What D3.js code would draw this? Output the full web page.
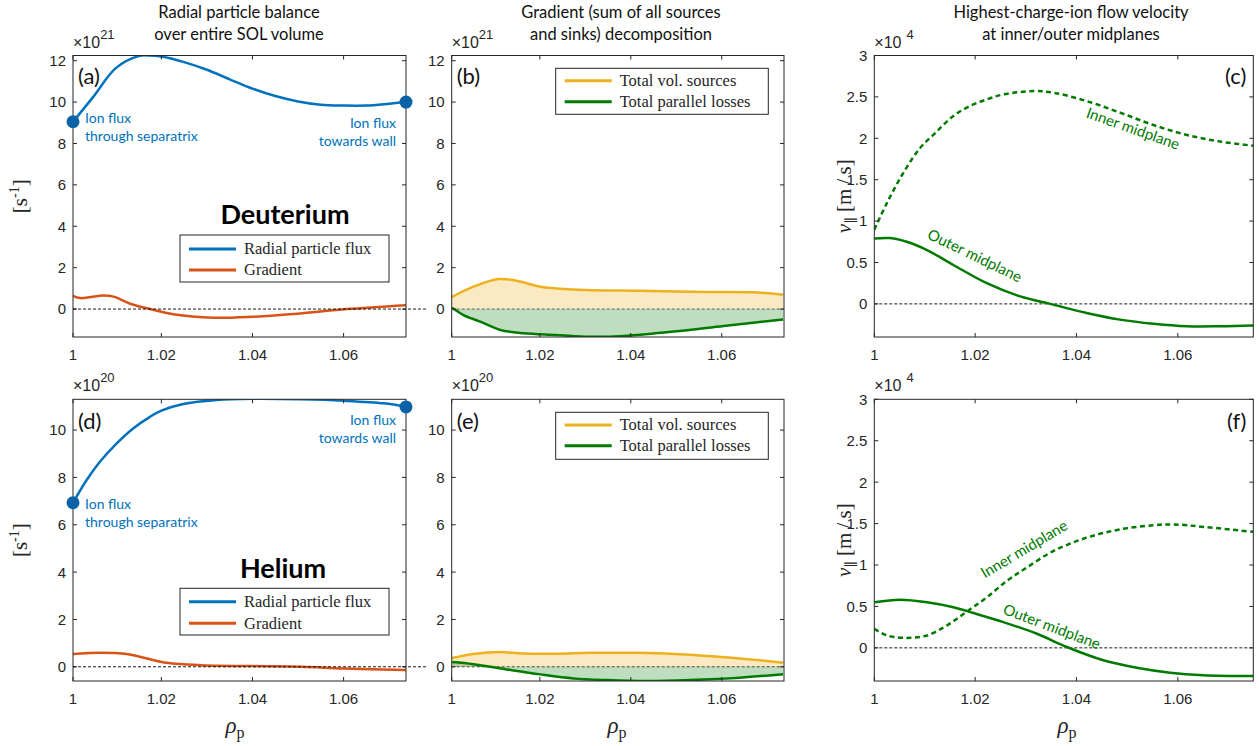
<!DOCTYPE html>
<html><head><meta charset="utf-8">
<script src="https://cdn.jsdelivr.net/npm/d3@7"></script>
<style>body{margin:0;background:#fff} svg{display:block}</style>
</head><body><svg id="c" width="1259" height="746"></svg>
<script>
// ---------------- data ----------------
// Deuterium, x10^21 s^-1
const xA_flux = [1.0006,1.005,1.01,1.015,1.0175,1.02,1.025,1.03,1.035,1.04,1.045,1.05,1.055,1.06,1.065,1.07,1.0737];
const yA_flux = [9.05,10.24,11.64,12.22,12.25,12.2,11.93,11.56,11.1,10.65,10.29,10.03,9.87,9.83,9.83,9.92,10.0];
const xA_grad = [1.0006,1.0022,1.0073,1.0095,1.0135,1.0175,1.0226,1.0314,1.04,1.0505,1.0607,1.0737];
const yA_grad = [0.64,0.53,0.65,0.6,0.23,0.0,-0.25,-0.42,-0.37,-0.21,0.0,0.19];
const xB_src = [1.0007,1.0054,1.0109,1.0149,1.0201,1.0274,1.042,1.0567,1.0669,1.0735];
const yB_src = [0.59,1.08,1.45,1.37,1.08,0.95,0.88,0.83,0.81,0.69];
const xB_par = [1.0007,1.0032,1.0069,1.0113,1.0164,1.0237,1.0311,1.0384,1.0494,1.0604,1.0735];
const yB_par = [0.06,-0.29,-0.61,-1.01,-1.17,-1.25,-1.34,-1.3,-1.09,-0.82,-0.5];
// Deuterium flow velocity, x10^4 m/s
const xC_in = [1.0001,1.0026,1.0058,1.0091,1.0124,1.0157,1.019,1.0223,1.0256,1.0315,1.0355,1.042,1.0486,1.0552,1.0618,1.0684,1.0749];
const yC_in = [0.895,1.22,1.58,1.88,2.08,2.27,2.39,2.47,2.53,2.57,2.55,2.45,2.31,2.16,2.04,1.96,1.91];
const xC_out = [1.0001,1.0032,1.0065,1.0105,1.0157,1.0223,1.0289,1.0348,1.042,1.0486,1.0552,1.0618,1.0684,1.0749];
const yC_out = [0.79,0.795,0.75,0.65,0.47,0.25,0.09,0.0,-0.11,-0.19,-0.24,-0.27,-0.27,-0.26];
// Helium, x10^20 s^-1
const xD_flux = [1.0006,1.0036,1.0065,1.0102,1.0138,1.0175,1.02,1.0248,1.0322,1.04,1.0505,1.06,1.0688,1.0737];
const yD_flux = [6.93,7.89,8.66,9.44,10.07,10.56,10.82,11.1,11.27,11.32,11.3,11.24,11.13,10.98];
const xD_grad = [1.0006,1.0065,1.0124,1.0168,1.0212,1.0285,1.04,1.0505,1.06,1.0737];
const yD_grad = [0.54,0.59,0.54,0.35,0.17,0.07,0.03,0.0,-0.07,-0.14];
const xE_src = [1.0007,1.0054,1.0113,1.0164,1.0237,1.0311,1.042,1.053,1.064,1.0735];
const yE_src = [0.37,0.54,0.62,0.56,0.55,0.59,0.59,0.51,0.35,0.17];
const xE_par = [1.0007,1.0054,1.0127,1.0201,1.0274,1.0347,1.0435,1.053,1.064,1.0735];
const yE_par = [0.2,0.11,-0.11,-0.32,-0.49,-0.56,-0.6,-0.56,-0.46,-0.31];
// Helium flow velocity, x10^4 m/s
const xF_in = [1.0001,1.0026,1.0065,1.0105,1.0144,1.0184,1.0223,1.0263,1.0302,1.0355,1.042,1.0486,1.0552,1.0591,1.0651,1.0749];
const yF_in = [0.23,0.15,0.12,0.15,0.27,0.44,0.61,0.81,0.97,1.17,1.33,1.43,1.48,1.49,1.46,1.4];
const xF_out = [1.0001,1.0052,1.0105,1.0157,1.0197,1.0256,1.0322,1.0381,1.0453,1.0519,1.0585,1.0651,1.0749];
const yF_out = [0.55,0.58,0.55,0.49,0.42,0.31,0.17,0.01,-0.15,-0.24,-0.3,-0.33,-0.34];

const xTicks = [1, 1.02, 1.04, 1.06];
const xTickLabels = ["1", "1.02", "1.04", "1.06"];
const yTicksD = [0,2,4,6,8,10,12];
const yTicksHe = [0,2,4,6,8,10];
const yTicksV = [0,0.5,1,1.5,2,2.5,3];
const yTickLabelsV = ["0","0.5","1","1.5","2","2.5","3"];

const titles = [
  ["Radial particle balance","over entire SOL volume"],
  ["Gradient (sum of all sources","and sinks) decomposition"],
  ["Highest-charge-ion flow velocity","at inner/outer midplanes"]
];
const legendFlux = ["Radial particle flux","Gradient"];
const legendSrc = ["Total vol. sources","Total parallel losses"];

// ---------------- style ----------------
const C_BLUE="#0072BD", C_ORANGE="#D95319", C_YEL="#EDB120", C_GREEN="#007A00", C_AX="#262626";
const SANS="Lato, 'Open Sans', sans-serif";
const HELV="'Liberation Sans', Arial, sans-serif";
const SERIF="'Liberation Serif', 'DejaVu Serif', serif";
const CURVE=d3.curveCatmullRom.alpha(0.5);

const svg = d3.select("#c");
const rows = [{t:55.5,b:337},{t:399.3,b:681}];
const cols = [{l:73,r:406,xd:[1.0006,1.0737],tc:239},{l:451.7,r:784,xd:[1.0006,1.0737],tc:621},{l:874.3,r:1253.3,xd:[1.0001,1.0749],tc:1071}];
let clipN=0;

function makePanel(ri, ci, yd, yTicks, yLabels){
  const R=rows[ri], Cc=cols[ci];
  const x=d3.scaleLinear().domain(Cc.xd).range([Cc.l,Cc.r]);
  const y=d3.scaleLinear().domain(yd).range([R.b,R.t]);
  const g=svg.append("g");
  const id="clip"+(clipN++);
  svg.append("defs").append("clipPath").attr("id",id).append("rect")
    .attr("x",Cc.l).attr("y",R.t).attr("width",Cc.r-Cc.l).attr("height",R.b-R.t);
  const plot=g.append("g").attr("clip-path",`url(#${id})`);
  const over=g.append("g");
  return {x,y,g,plot,over,R,Cc,yTicks,yLabels};
}
function finishAxes(p, expBase, expSup){
  const {x,y,over,R,Cc}=p;
  over.append("rect").attr("x",Cc.l).attr("y",R.t).attr("width",Cc.r-Cc.l).attr("height",R.b-R.t)
    .attr("fill","none").attr("stroke",C_AX).attr("stroke-width",1);
  p.yTicks.forEach((t,i)=>{
    const yy=y(t);
    over.append("line").attr("x1",Cc.l).attr("x2",Cc.l+4).attr("y1",yy).attr("y2",yy).attr("stroke",C_AX);
    over.append("line").attr("x1",Cc.r-4).attr("x2",Cc.r).attr("y1",yy).attr("y2",yy).attr("stroke",C_AX);
    over.append("text").attr("x",Cc.l-7).attr("y",yy).attr("dy","0.36em").attr("text-anchor","end")
      .attr("font-family",HELV).attr("font-size",15).attr("fill",C_AX).text(p.yLabels[i]);
  });
  xTicks.forEach((t,i)=>{
    const xx=x(Math.max(t,x.domain()[0]));
    over.append("line").attr("x1",xx).attr("x2",xx).attr("y1",R.b).attr("y2",R.b-4).attr("stroke",C_AX);
    over.append("line").attr("x1",xx).attr("x2",xx).attr("y1",R.t).attr("y2",R.t+4).attr("stroke",C_AX);
    over.append("text").attr("x",xx).attr("y",R.b+23).attr("text-anchor","middle")
      .attr("font-family",HELV).attr("font-size",15).attr("fill",C_AX).text(xTickLabels[i]);
  });
  const e=over.append("text").attr("x",Cc.l).attr("y",R.t-8).attr("font-family",HELV).attr("font-size",16).attr("fill",C_AX);
  e.append("tspan").text(expBase);
  e.append("tspan").attr("dy",-9).attr("dx",expSup.length===1?5:0).attr("font-size",13).text(expSup);
}
function line(p, xs, ys, color, width, dash){
  const data=xs.map((v,i)=>[v,ys[i]]);
  const gen=d3.line().x(d=>p.x(d[0])).y(d=>p.y(d[1])).curve(CURVE);
  const path=p.plot.append("path").attr("d",gen(data)).attr("fill","none").attr("stroke",color)
    .attr("stroke-width",width).attr("stroke-linejoin","round").attr("stroke-linecap","butt");
  if(dash) path.attr("stroke-dasharray",dash);
}
function area(p, xs, ys, color, op){
  const data=xs.map((v,i)=>[v,ys[i]]);
  const gen=d3.area().x(d=>p.x(d[0])).y0(p.y(0)).y1(d=>p.y(d[1])).curve(CURVE);
  p.plot.append("path").attr("d",gen(data)).attr("fill",color).attr("fill-opacity",op).attr("stroke","none");
}
function zero(p, extend, color){
  const x0=p.Cc.l, x1=p.Cc.r+(extend||0);
  const tgt = extend? p.g : p.plot;
  tgt.append("line").attr("x1",x0).attr("x2",x1).attr("y1",p.y(0)).attr("y2",p.y(0))
    .attr("stroke",color||"#000").attr("stroke-width",0.9).attr("stroke-dasharray","3,2");
}
function legend(p, x0, y0, w, h, labels, colors, lineY){
  const g=p.over.append("g");
  g.append("rect").attr("x",x0).attr("y",y0).attr("width",w).attr("height",h).attr("fill","#fff").attr("stroke",C_AX).attr("stroke-width",1);
  labels.forEach((lab,i)=>{
    const yy=y0+lineY[i];
    g.append("line").attr("x1",x0+9).attr("x2",x0+56).attr("y1",yy).attr("y2",yy).attr("stroke",colors[i]).attr("stroke-width",3);
    g.append("text").attr("x",x0+64).attr("y",yy).attr("dy","0.33em").attr("font-family",SERIF).attr("font-size",16.5).attr("fill",C_AX).text(lab);
  });
}
function letter(p, txt, right, baseY){
  const t=p.over.append("text").attr("font-family",SANS).attr("font-size",22).attr("fill","#111")
    .attr("paint-order","stroke").attr("stroke","#fff").attr("stroke-width",4).attr("stroke-linejoin","round");
  if(right) t.attr("x",p.Cc.r-7).attr("text-anchor","end"); else t.attr("x",p.Cc.l+5);
  t.attr("y",baseY).text(txt);
}
function annot(p, lines, x0, ys, anchor){
  lines.forEach((s,i)=>{
    p.over.append("text").attr("x",x0).attr("y",ys[i]).attr("text-anchor",anchor)
      .attr("font-family",SANS).attr("font-size",14).attr("fill",C_BLUE).text(s);
  });
}
function marker(p, xv, yv){
  p.over.append("circle").attr("cx",p.x(xv)).attr("cy",p.y(yv)).attr("r",6.5).attr("fill","#0B62A6");
}
function rotLabel(p, txt, xv, yv, ang){
  p.over.append("text").attr("transform",`translate(${p.x(xv)},${p.y(yv)}) rotate(${ang})`)
    .attr("text-anchor","middle").attr("dominant-baseline","central").attr("font-family",SANS)
    .attr("font-size",15).attr("fill",C_GREEN).text(txt);
}
function ylabS(p){
  const cy=(p.R.t+p.R.b)/2;
  const t=svg.append("text").attr("transform",`translate(27,${cy}) rotate(-90)`).attr("text-anchor","middle")
    .attr("font-family",SERIF).attr("font-size",21).attr("fill",C_AX);
  t.append("tspan").text("[s");
  t.append("tspan").attr("dy",-8).attr("font-size",14).text("-1");
  t.append("tspan").attr("dy",8).text("]");
}
function ylabV(p){
  const cy=(p.R.t+p.R.b)/2;
  const t=svg.append("text").attr("transform",`translate(851,${cy}) rotate(-90)`).attr("text-anchor","middle")
    .attr("font-family",SERIF).attr("font-size",21).attr("fill",C_AX);
  t.append("tspan").attr("font-style","italic").text("v");
  t.append("tspan").attr("dy",5).attr("font-size",14).text("\u2225");
  t.append("tspan").attr("dy",-5).text(" [m\u2009/\u2009s]");
}
function xlab(ci){
  const t=svg.append("text").attr("x",cols[ci].tc-4).attr("y",733).attr("text-anchor","middle")
    .attr("font-family",SERIF).attr("font-size",23).attr("fill",C_AX);
  t.append("tspan").attr("font-style","italic").text("\u03C1");
  t.append("tspan").attr("dy",5).attr("font-size",16).text("p");
}

// titles
titles.forEach((tl,ci)=>{
  tl.forEach((s,i)=>{
    svg.append("text").attr("x",cols[ci].tc).attr("y",18+i*21.5).attr("text-anchor","middle")
      .attr("font-family",SANS).attr("font-size",16.5).attr("fill","#111").text(s);
  });
});

// ---------- (a) ----------
const pa=makePanel(0,0,[-1.35,12.25],yTicksD,yTicksD.map(String));
zero(pa,22);
line(pa,xA_grad,yA_grad,C_ORANGE,2.5);
line(pa,xA_flux,yA_flux,C_BLUE,2.5);
finishAxes(pa,"\u00D710","21");
marker(pa,xA_flux[0],yA_flux[0]); marker(pa,xA_flux[xA_flux.length-1],yA_flux[yA_flux.length-1]);
annot(pa,["Ion flux","through separatrix"],85,[123,141],"start");
annot(pa,["Ion flux","towards wall"],396,[128,146],"end");
letter(pa,"(a)",false,84);
pa.over.append("text").attr("x",285).attr("y",224).attr("text-anchor","middle").attr("font-family",SANS)
  .attr("font-weight","bold").attr("font-size",27).attr("fill","#000").text("Deuterium");
legend(pa,180,235,209,47,legendFlux,[C_BLUE,C_ORANGE],[14,35]);
ylabS(pa);

// ---------- (b) ----------
const pb=makePanel(0,1,[-1.35,12.25],yTicksD,yTicksD.map(String));
area(pb,xB_src,yB_src,C_YEL,0.28);
area(pb,xB_par,yB_par,C_GREEN,0.25);
zero(pb,0,"#555");
line(pb,xB_src,yB_src,C_YEL,2.5);
line(pb,xB_par,yB_par,C_GREEN,2.5);
finishAxes(pb,"\u00D710","21");
letter(pb,"(b)",false,84);
legend(pb,555.7,68.3,212.6,46,legendSrc,[C_YEL,C_GREEN],[12.5,33.5]);

// ---------- (c) ----------
const pc=makePanel(0,2,[-0.4,3],yTicksV,yTickLabelsV);
zero(pc,0,"#000");
line(pc,xC_in,yC_in,C_GREEN,2.5,"5,3.5");
line(pc,xC_out,yC_out,C_GREEN,2.5);
finishAxes(pc,"\u00D710","4");
letter(pc,"(c)",true,84);
rotLabel(pc,"Inner midplane",1.0512,2.126,19.5);
rotLabel(pc,"Outer midplane",1.0200,0.592,25.8);
ylabV(pc);

// ---------- (d) ----------
const pd=makePanel(1,0,[-0.6,11.3],yTicksHe,yTicksHe.map(String));
zero(pd,22);
line(pd,xD_grad,yD_grad,C_ORANGE,2.5);
line(pd,xD_flux,yD_flux,C_BLUE,2.5);
finishAxes(pd,"\u00D710","20");
marker(pd,xD_flux[0],yD_flux[0]); marker(pd,xD_flux[xD_flux.length-1],yD_flux[yD_flux.length-1]);
annot(pd,["Ion flux","through separatrix"],85,[509,527],"start");
annot(pd,["Ion flux","towards wall"],396,[425,443],"end");
letter(pd,"(d)",false,429);
pd.over.append("text").attr("x",283).attr("y",578).attr("text-anchor","middle").attr("font-family",SANS)
  .attr("font-weight","bold").attr("font-size",27).attr("fill","#000").text("Helium");
legend(pd,180,588.3,209,46.7,legendFlux,[C_BLUE,C_ORANGE],[13.4,35]);
ylabS(pd);
xlab(0);

// ---------- (e) ----------
const pe=makePanel(1,1,[-0.6,11.3],yTicksHe,yTicksHe.map(String));
area(pe,xE_src,yE_src,C_YEL,0.28);
area(pe,xE_par,yE_par,C_GREEN,0.25);
zero(pe,0,"#333");
line(pe,xE_src,yE_src,C_YEL,2.5);
line(pe,xE_par,yE_par,C_GREEN,2.5);
finishAxes(pe,"\u00D710","20");
letter(pe,"(e)",false,429);
legend(pe,555.7,412.3,212.6,47,legendSrc,[C_YEL,C_GREEN],[12.7,33.4]);
xlab(1);

// ---------- (f) ----------
const pf=makePanel(1,2,[-0.4,3],yTicksV,yTickLabelsV);
zero(pf,0,"#000");
line(pf,xF_in,yF_in,C_GREEN,2.5,"5,3.5");
line(pf,xF_out,yF_out,C_GREEN,2.5);
finishAxes(pf,"\u00D710","4");
letter(pf,"(f)",true,429);
rotLabel(pf,"Inner midplane",1.0296,1.2,-30.8);
rotLabel(pf,"Outer midplane",1.0352,0.265,20.6);
ylabV(pf);
xlab(2);
</script>
</body></html>
